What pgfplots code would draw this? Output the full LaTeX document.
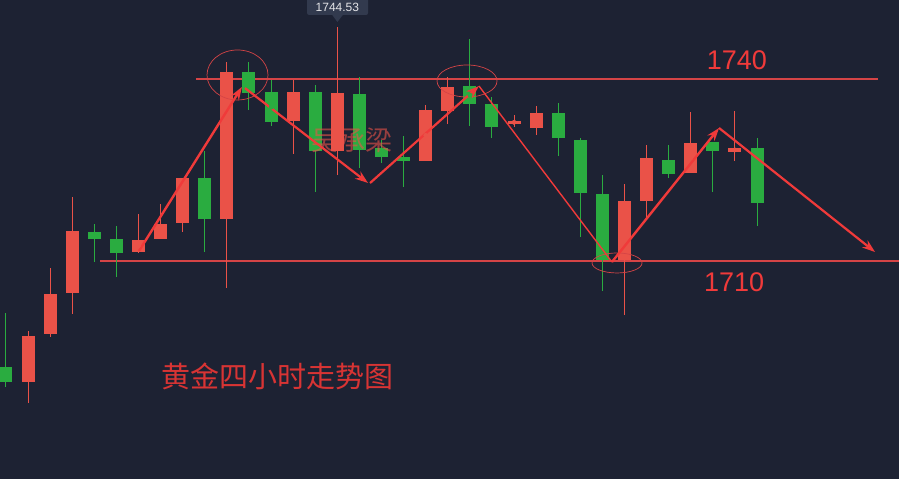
\documentclass[border=0pt]{standalone}
\usepackage{fontspec}
\setmainfont{Liberation Sans}
\newfontfamily\cjk{Noto Sans CJK SC}
\usepackage{pgfplots}
\usepackage{pgfplotstable}
\pgfplotsset{compat=1.18}
\usetikzlibrary{arrows.meta}

\definecolor{bgc}{HTML}{1D2233}
\definecolor{upc}{HTML}{EA5248}
\definecolor{dnc}{HTML}{2AAC40}
\definecolor{linec}{HTML}{D54446}
\definecolor{arrc}{HTML}{F03A3A}
\definecolor{tipc}{HTML}{323A4E}

% candles: index, open, high, low, close
\pgfplotstableread{
x  o      h      l      c
1  1690.0 1698.5 1686.6 1697.6
2  1698.0 1708.8 1697.5 1704.6
3  1704.7 1720.5 1701.3 1714.9
6  1711.5 1717.7 1711.3 1713.5
7  1713.6 1719.4 1713.6 1716.1
8  1716.3 1723.7 1714.8 1723.7
10 1716.9 1742.8 1705.5 1741.2
13 1733.1 1739.8 1727.6 1737.8
15 1728.1 1748.6 1724.2 1737.7
19 1726.5 1735.7 1726.5 1734.9
20 1734.7 1740.3 1732.6 1738.7
23 1732.6 1734.1 1732.1 1733.1
24 1731.9 1735.6 1730.8 1734.4
28 1710.2 1722.7 1701.1 1719.9
29 1719.9 1729.1 1717.3 1727.0
31 1724.5 1734.6 1724.5 1729.5
33 1728.0 1734.7 1726.5 1728.6
}\upcandles

\pgfplotstableread{
x  o      h      l      c
0  1692.5 1701.4 1689.2 1690.0
4  1714.8 1716.1 1709.8 1713.6
5  1713.6 1715.8 1707.4 1711.3
9  1723.7 1728.1 1711.5 1716.9
11 1741.2 1742.8 1734.9 1737.7
12 1737.8 1739.8 1732.2 1732.9
14 1737.8 1739.0 1721.4 1728.1
16 1737.5 1740.3 1725.3 1728.3
17 1728.6 1730.0 1726.2 1727.1
18 1727.1 1730.6 1722.2 1726.5
21 1738.8 1746.6 1732.2 1735.9
22 1735.9 1737.0 1730.3 1732.1
25 1734.4 1736.0 1727.3 1730.3
26 1729.9 1730.3 1714.0 1721.2
27 1721.0 1724.2 1705.1 1710.2
30 1726.7 1729.1 1723.7 1724.3
32 1729.6 1729.6 1721.4 1728.1
34 1728.6 1730.3 1715.8 1719.6
}\dncandles

\pgfplotsset{
  candle/.style 2 args={only marks, mark=none, forget plot, color=#1,
    error bars/y dir=both, error bars/y explicit, error bars/error mark=none,
    error bars/error bar style={line width=#2, color=#1}},
}

\begin{document}
\begin{tikzpicture}
\begin{axis}[
  width=899pt, height=479pt, scale only axis,
  xmin=-0.2716, xmax=40.425,
  ymin=1674.06, ymax=1753.02,
  axis line style={draw=none},
  ticks=none,
  axis background/.style={fill=bgc},
  clip=false,
]
% support / resistance lines
\draw[linec, line width=1.3pt] (axis cs:8.6,1740) -- (axis cs:39.47,1740);
\draw[linec, line width=1.3pt] (axis cs:4.26,1710) -- (axis cs:40.425,1710);

% wicks, anchored at the body centre
\addplot[candle={upc}{1pt}] table[x=x, y expr={0.5*(\thisrow{o}+\thisrow{c})},
  y error plus expr={\thisrow{h}-0.5*(\thisrow{o}+\thisrow{c})},
  y error minus expr={0.5*(\thisrow{o}+\thisrow{c})-\thisrow{l}}] {\upcandles};
\addplot[candle={dnc}{1pt}] table[x=x, y expr={0.5*(\thisrow{o}+\thisrow{c})},
  y error plus expr={\thisrow{h}-0.5*(\thisrow{o}+\thisrow{c})},
  y error minus expr={0.5*(\thisrow{o}+\thisrow{c})-\thisrow{l}}] {\dncandles};
% bodies
\addplot[candle={upc}{13pt}] table[x=x, y expr={0.5*(\thisrow{o}+\thisrow{c})}, y error expr={0.5*abs(\thisrow{c}-\thisrow{o})}] {\upcandles};
\addplot[candle={dnc}{13pt}] table[x=x, y expr={0.5*(\thisrow{o}+\thisrow{c})}, y error expr={0.5*abs(\thisrow{c}-\thisrow{o})}] {\dncandles};

% watermark
\node[text=upc, font=\cjk\fontsize{27}{27}\selectfont, opacity=0.6] at (axis cs:15.66,1729.9) {吴承梁};

% circles
\draw[linec, line width=0.7pt] (axis cs:10.48,1740.66) ellipse [x radius=30.5pt, y radius=25pt];
\draw[linec, line width=0.7pt] (axis cs:20.87,1739.67) ellipse [x radius=30pt, y radius=16pt];
\draw[linec, line width=0.7pt] (axis cs:27.66,1709.67) ellipse [x radius=25pt, y radius=10pt];

% trend arrows
\draw[arrc, line width=2.4pt, -{Stealth[length=13pt,width=9pt]}] (axis cs:6.02,1711.65) -- (axis cs:10.68,1738.68);
\draw[arrc, line width=2.2pt, -{Stealth[length=13pt,width=9pt]}] (axis cs:10.82,1738.5) -- (axis cs:16.39,1722.85);
\draw[arrc, line width=2.2pt, -{Stealth[length=13pt,width=9pt]}] (axis cs:16.48,1722.85) -- (axis cs:21.41,1738.84);
\draw[arrc, line width=1.4pt] (axis cs:21.41,1738.84) -- (axis cs:27.43,1709.83);
\draw[arrc, line width=2.4pt, -{Stealth[length=13pt,width=9pt]}] (axis cs:27.43,1709.83) -- (axis cs:32.28,1731.92);
\draw[arrc, line width=2.2pt, -{Stealth[length=13pt,width=9pt]}] (axis cs:32.28,1731.92) -- (axis cs:39.34,1711.48);

% labels
\node[text=arrc, font=\fontsize{27}{27}\selectfont] at (axis cs:33.09,1743.13) {1740};
\node[text=arrc, font=\fontsize{27}{27}\selectfont] at (axis cs:32.96,1706.54) {1710};
\node[text=arrc!90!black, font=\cjk\fontsize{29}{29}\selectfont] at (axis cs:12.27,1691.04) {黄金四小时走势图};

% price tooltip
\fill[tipc, rounded corners=2pt] (axis cs:13.63,1754.0) rectangle (axis cs:16.39,1750.55);
\fill[tipc] (axis cs:14.76,1750.6) -- (axis cs:15.26,1750.6) -- (axis cs:15.0,1749.4) -- cycle;
\node[text=white!88!bgc, font=\fontsize{12}{12}\selectfont] at (axis cs:15.0,1751.75) {1744.53};
\end{axis}
\pgfresetboundingbox
\useasboundingbox (current axis.south west) rectangle (current axis.north east);
\end{tikzpicture}
\end{document}
